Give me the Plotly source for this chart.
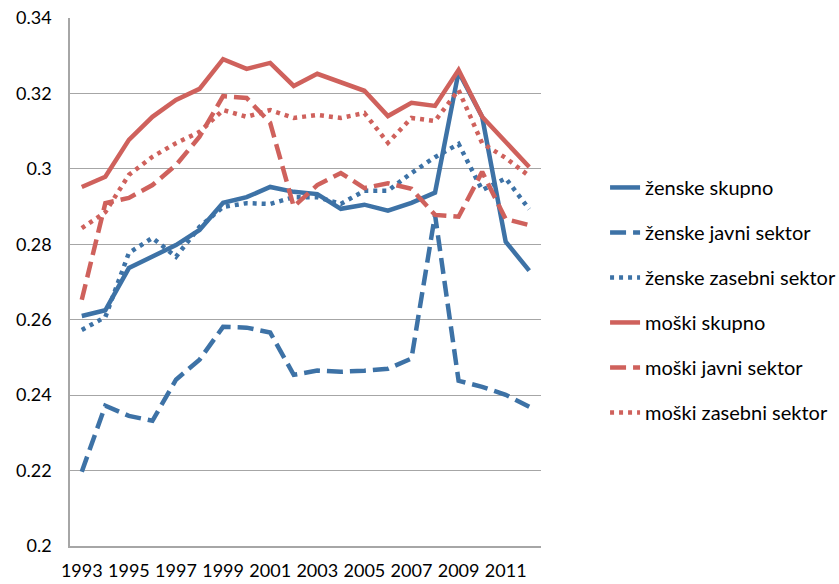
import plotly.graph_objects as go

years = list(range(1993, 2013))

zenske_skupno = [0.2610, 0.2625, 0.2737, 0.2767, 0.2798, 0.2838, 0.2910, 0.2925, 0.2952, 0.2939,
                 0.2933, 0.2894, 0.2905, 0.2889, 0.2910, 0.2937, 0.3257, 0.3138, 0.2807, 0.2730]
zenske_javni = [0.2197, 0.2372, 0.2345, 0.2332, 0.2441, 0.2494, 0.2581, 0.2579, 0.2566, 0.2454,
                0.2465, 0.2462, 0.2465, 0.2470, 0.2497, 0.2878, 0.2438, 0.2422, 0.2401, 0.2369]
zenske_zasebni = [0.2573, 0.2607, 0.2777, 0.2817, 0.2767, 0.2846, 0.2899, 0.2909, 0.2907, 0.2925,
                  0.2925, 0.2907, 0.2942, 0.2942, 0.2989, 0.3031, 0.3066, 0.2944, 0.2975, 0.2893]
moski_skupno = [0.2952, 0.2979, 0.3077, 0.3138, 0.3183, 0.3212, 0.3291, 0.3265, 0.3281, 0.3220,
                0.3252, 0.3228, 0.3207, 0.3140, 0.3175, 0.3167, 0.3262, 0.3138, 0.3071, 0.3005]
moski_javni = [0.2653, 0.2909, 0.2923, 0.2957, 0.3010, 0.3085, 0.3193, 0.3188, 0.3122, 0.2900,
               0.2957, 0.2989, 0.2949, 0.2962, 0.2947, 0.2878, 0.2873, 0.2992, 0.2867, 0.2851]
moski_zasebni = [0.2843, 0.2885, 0.2984, 0.3032, 0.3068, 0.3098, 0.3156, 0.3138, 0.3156, 0.3135,
                 0.3143, 0.3135, 0.3148, 0.3069, 0.3135, 0.3127, 0.3209, 0.3068, 0.3029, 0.2981]

series_names = ["ženske skupno", "ženske javni sektor", "ženske zasebni sektor",
                "moški skupno", "moški javni sektor", "moški zasebni sektor"]
series_values = [zenske_skupno, zenske_javni, zenske_zasebni,
                 moski_skupno, moski_javni, moski_zasebni]

y_ticks = [0.2, 0.22, 0.24, 0.26, 0.28, 0.3, 0.32, 0.34]
y_ticktext = ["0.2", "0.22", "0.24", "0.26", "0.28", "0.3", "0.32", "0.34"]
x_ticks = list(range(1993, 2012, 2))

BLUE = "#3D72A6"
RED = "#CF615C"
colors = [BLUE, BLUE, BLUE, RED, RED, RED]
dashes = ["solid", "16px,7px", "4px,5px", "solid", "16px,7px", "4px,5px"]

fig = go.Figure()
for i, (name, vals) in enumerate(zip(series_names, series_values)):
    fig.add_trace(go.Scatter(
        x=years, y=vals, name=name, mode="lines",
        line=dict(color=colors[i], width=4.5, dash=dashes[i]),
        legendgroup=f"g{i}",
    ))

fig.update_layout(
    width=870, height=584,
    margin=dict(l=70, r=329, t=18, b=38),
    paper_bgcolor="white", plot_bgcolor="white",
    font=dict(family="Lato, Open Sans, sans-serif", size=18, color="#000000"),
    showlegend=True,
    legend=dict(
        x=1.136, y=0.716, xanchor="left", yanchor="top",
        font=dict(size=20),
        tracegroupgap=16,
        bgcolor="rgba(0,0,0,0)",
    ),
    xaxis=dict(
        range=[1992.5, 2012.5], tickvals=x_ticks, ticktext=[str(v) for v in x_ticks],
        showgrid=False, showline=True, linecolor="#A6A6A6", linewidth=1.5,
        ticks="", zeroline=False, tickfont=dict(size=18), ticklabelstandoff=8,
        automargin=False, ticklabeloverflow="allow",
    ),
    yaxis=dict(
        range=[0.2, 0.34], tickvals=y_ticks, ticktext=y_ticktext,
        showgrid=True, gridcolor="#A6A6A6", gridwidth=1.2,
        showline=True, linecolor="#A6A6A6", linewidth=1.5,
        ticks="", zeroline=False, tickfont=dict(size=18), ticklabelstandoff=13,
        automargin=False, ticklabeloverflow="allow",
    ),
)

fig.write_html("out.html",
               config={"displayModeBar": False},
               post_script="document.body.style.margin='0';document.body.style.overflow='hidden';")
